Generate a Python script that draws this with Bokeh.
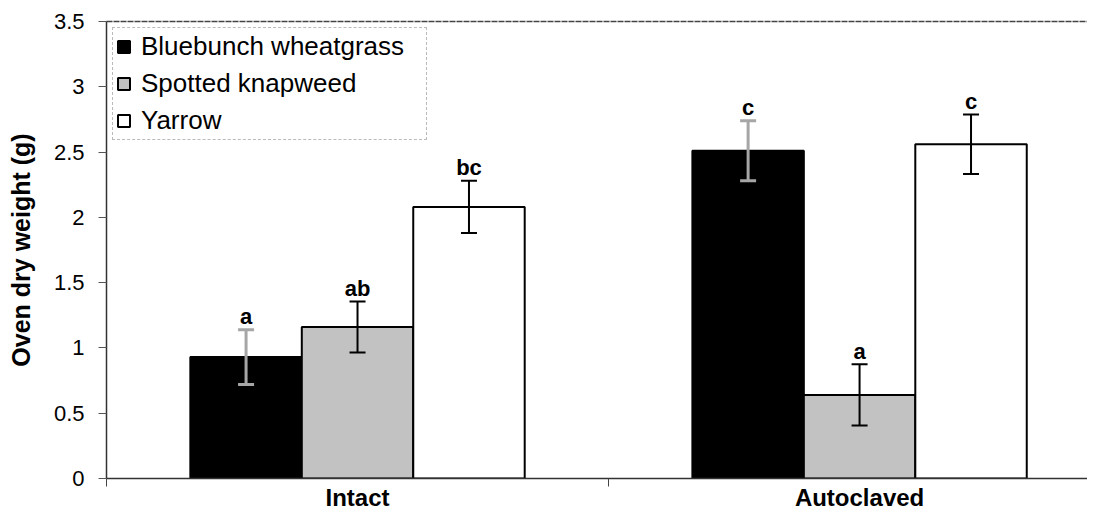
from bokeh.plotting import figure
from bokeh.models import (ColumnDataSource, Whisker, TeeHead, FixedTicker,
                          NumeralTickFormatter, LinearAxis, Range1d, Legend, LegendItem)
from bokeh.embed import file_html
from bokeh.resources import INLINE
from bokeh.core.properties import value

# ---- data ----
treatments = ["Intact", "Autoclaved"]
species = ["Bluebunch wheatgrass", "Spotted knapweed", "Yarrow"]
bluebunch_mean = [0.93, 2.51]
knapweed_mean = [1.16, 0.64]
yarrow_mean = [2.08, 2.56]
bluebunch_err = [0.21, 0.23]
knapweed_err = [0.195, 0.235]
yarrow_err = [0.20, 0.227]
bluebunch_letters = ["a", "c"]
knapweed_letters = ["ab", "a"]
yarrow_letters = ["bc", "c"]
y_ticks = [0, 0.5, 1, 1.5, 2, 2.5, 3, 3.5]

means = [bluebunch_mean, knapweed_mean, yarrow_mean]
errs = [bluebunch_err, knapweed_err, yarrow_err]
letters = [bluebunch_letters, knapweed_letters, yarrow_letters]
fills = ["#000000", "#c2c2c2", "#ffffff"]
whisker_colors = ["#a6a6a6", "#000000", "#000000"]
whisker_widths = [3, 2, 2]

BAR_W = 0.222
FONT = "Liberation Sans"

p = figure(width=1087, height=513, output_backend="svg", toolbar_location=None,
           x_range=Range1d(0, 1.954), y_range=Range1d(0, 3.5),
           min_border_left=106, min_border_right=0, min_border_top=21, min_border_bottom=35)
p.outline_line_color = None
p.grid.visible = False
p.background_fill_color = "white"

legend_items = []
for si, sp in enumerate(species):
    xs = [ti + 0.5 + (si - 1) * BAR_W for ti in range(len(treatments))]
    m = means[si]
    e = errs[si]
    src = ColumnDataSource(dict(
        x=xs, top=m,
        upper=[a + b for a, b in zip(m, e)],
        lower=[a - b for a, b in zip(m, e)],
        letter=letters[si],
    ))
    r = p.vbar(x="x", top="top", width=BAR_W, bottom=0, source=src,
               fill_color=fills[si], line_color="black", line_width=2)
    legend_items.append(LegendItem(label=sp, renderers=[r]))
    w = Whisker(base="x", upper="upper", lower="lower", source=src, dimension="height",
                level="annotation",
                line_color=whisker_colors[si], line_width=whisker_widths[si],
                upper_head=TeeHead(size=16, line_color=whisker_colors[si], line_width=whisker_widths[si]),
                lower_head=TeeHead(size=16, line_color=whisker_colors[si], line_width=whisker_widths[si]))
    p.add_layout(w)
    p.text(x="x", y="upper", text="letter", source=src, text_align="center",
           text_baseline="alphabetic", y_offset=-13,
           text_font=value(FONT), text_font_style="bold", text_font_size="22px",
           text_color="black")

legend = Legend(items=legend_items, location="top_left", margin=6, padding=3,
                spacing=6, label_height=27, glyph_height=15, glyph_width=15,
                label_standoff=10, label_width=282,
                label_text_font=FONT, label_text_font_size="26px", label_text_color="black",
                border_line_color="#777777", border_line_width=1, border_line_dash="3 1",
                background_fill_alpha=1.0)
p.add_layout(legend, "center")

# y axis
ya = p.yaxis[0]
ya.ticker = FixedTicker(ticks=y_ticks)
ya.formatter = NumeralTickFormatter(format="0.[0]")
ya.axis_label = "Oven dry weight (g)"
ya.axis_label_text_font = FONT
ya.axis_label_text_font_style = "bold"
ya.axis_label_text_font_size = "25px"
ya.axis_label_text_color = "black"
ya.axis_label_standoff = 16
ya.major_label_text_font = FONT
ya.major_label_text_font_size = "22px"
ya.major_label_text_color = "black"
ya.major_label_standoff = 14
ya.major_tick_out = 8
ya.major_tick_in = 0
ya.minor_tick_out = 0
ya.minor_tick_in = 0
ya.axis_line_color = "#333333"
ya.axis_line_width = 1.5
ya.major_tick_line_color = "#555555"

# x axis
xa = p.xaxis[0]
xa.ticker = FixedTicker(ticks=[i + 0.5 for i in range(len(treatments))],
                        minor_ticks=[0, 1, 2])
xa.major_label_overrides = {i + 0.5: t for i, t in enumerate(treatments)}
xa.major_label_text_font = FONT
xa.major_label_text_font_style = "bold"
xa.major_label_text_font_size = "24px"
xa.major_label_text_color = "black"
xa.major_label_standoff = -3
xa.major_tick_out = 0
xa.major_tick_in = 0
xa.minor_tick_out = 8
xa.minor_tick_in = 0
xa.minor_tick_line_color = "#444444"
xa.axis_line_color = "#333333"
xa.axis_line_width = 1.5

# top border line
top = LinearAxis(ticker=FixedTicker(ticks=[]), major_label_text_font_size="0px",
                 major_tick_out=0, major_tick_in=0, minor_tick_out=0, minor_tick_in=0,
                 major_label_standoff=0, axis_line_color="#444444", axis_line_width=1.5,
                 axis_line_dash="6 1")
p.add_layout(top, "above")

open("out.html", "w").write(file_html(p, INLINE))
